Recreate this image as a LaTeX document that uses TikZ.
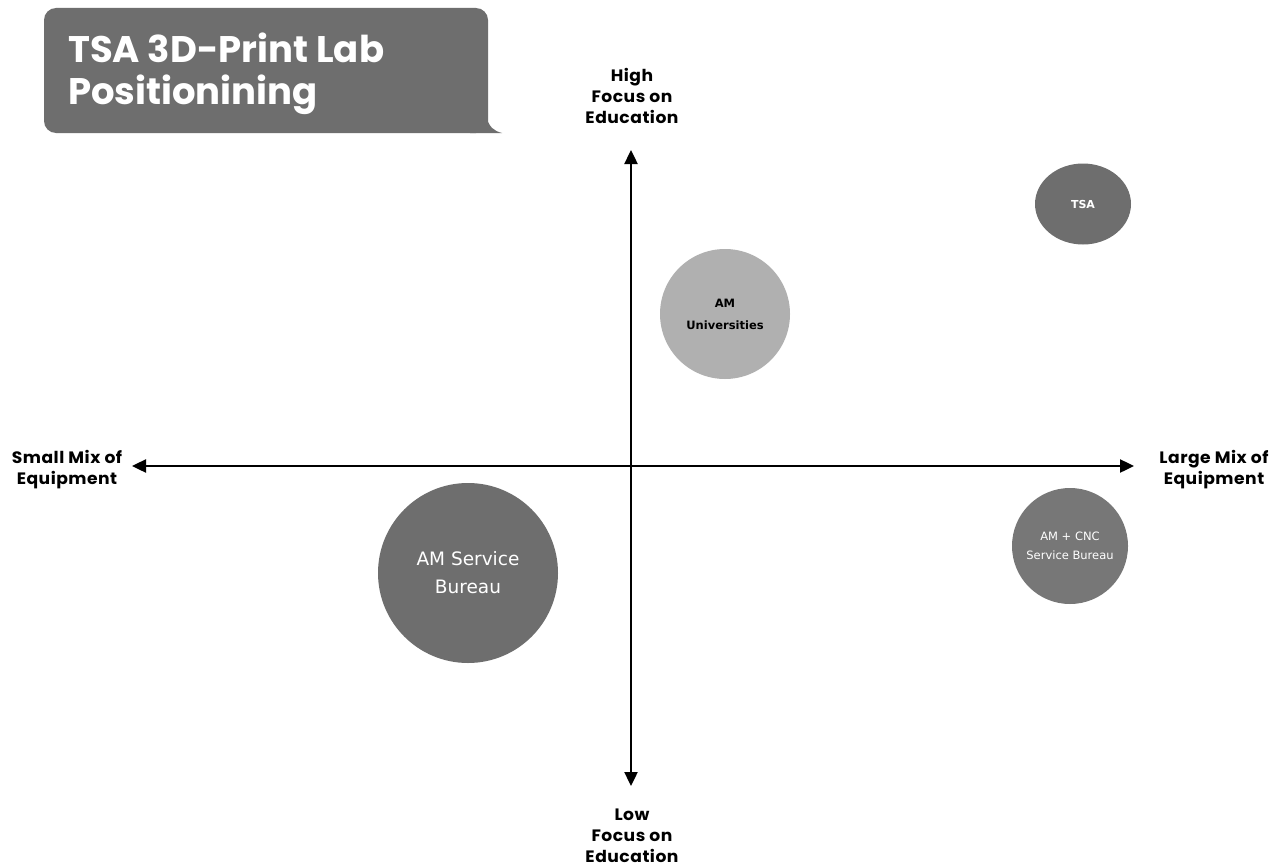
\documentclass[tikz,border=0pt]{standalone}
\usepackage{fontspec}
\setmainfont[FakeStretch=1.04, LetterSpace=3]{Poppins}
\newfontfamily\titlefont{Poppins}
\newfontfamily\bubblefont{DejaVu Sans}
\usetikzlibrary{arrows.meta,shapes.geometric}
\definecolor{darkgrey}{HTML}{6E6E6E}
\definecolor{midgrey}{HTML}{777777}
\definecolor{lightgrey}{HTML}{B0B0B0}
\tikzset{
  axis/.style={line width=2.4pt, black, {Triangle[length=14pt,width=13pt]}-{Triangle[length=14pt,width=13pt]}},
  axislabel/.style={align=center, font=\fontsize{16.5}{21}\selectfont\bfseries, text=black, inner sep=0pt},
  bubble/.style={circle, inner sep=0pt, align=center, draw=none},
}
\begin{document}
\begin{tikzpicture}[x=1pt, y=-1pt]
\useasboundingbox[fill=white] (0,0) rectangle (1288,867);

% title callout
\fill[darkgrey, rounded corners=12pt] (44,8) rectangle (488,133);
\fill[darkgrey] (470,118) -- (487,118) .. controls (489,127) and (494,131) .. (502,133) -- (470,133) -- cycle;
\node[anchor=base west, align=left, text=white, inner sep=0pt,
      font=\titlefont\fontsize{37}{42}\selectfont\bfseries] (title) at (68,104)
  {TSA 3D-Print Lab\\Positionining};

% axes
\coordinate (top) at (631,150);
\coordinate (bottom) at (631,786);
\coordinate (left) at (132,466);
\coordinate (right) at (1134,466);
\draw[axis] (bottom) -- (top);
\draw[axis] (left) -- (right);

% axis labels
\node[axislabel, anchor=base] (high) at (632,123) {High\\Focus on\\Education};
\node[axislabel, anchor=base] (low) at (632,862) {Low\\Focus on\\Education};
\node[axislabel, anchor=base] (small) at (67,484) {Small Mix of\\Equipment};
\node[axislabel, anchor=base] (large) at (1214,484) {Large Mix of\\Equipment};

% bubbles
\node[ellipse, fill=darkgrey, minimum width=96pt, minimum height=81pt, inner sep=0pt,
      text=white, font=\bubblefont\fontsize{11}{13}\selectfont\bfseries]
  (tsa) at (1083,204) {TSA};
\node[bubble, fill=lightgrey, minimum size=130pt, text=black,
      font=\bubblefont\fontsize{11.5}{22}\selectfont\bfseries]
  (univ) at (725,314) {AM\\Universities};
\node[bubble, fill=midgrey, minimum size=116pt, text=white,
      font=\bubblefont\fontsize{11.5}{19}\selectfont]
  (cnc) at (1070,546) {AM + CNC\\Service Bureau};
\node[bubble, fill=darkgrey, minimum size=180pt, text=white,
      font=\bubblefont\fontsize{18.5}{28}\selectfont]
  (amsb) at (468,573) {AM Service\\Bureau};
\end{tikzpicture}
\end{document}
